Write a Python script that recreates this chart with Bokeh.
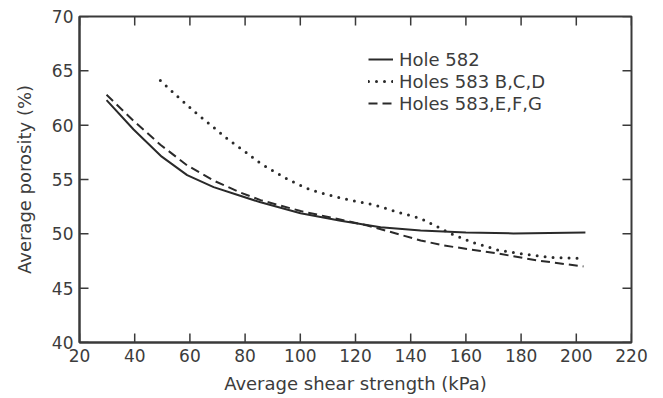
import math
from bokeh.plotting import figure
from bokeh.models import Range1d, Legend, LegendItem, FixedTicker
from bokeh.embed import file_html
from bokeh.resources import INLINE

# Hole 582 (solid)
hole582_x = [29.8, 39.6, 49.8, 59.0, 68.6, 77.1, 85.6, 100.1, 114.6, 129.1, 143.6, 160.0, 177.2, 203.3]
hole582_y = [62.30, 59.60, 57.10, 55.40, 54.30, 53.60, 52.90, 51.90, 51.20, 50.60, 50.30, 50.12, 50.04, 50.13]

# Holes 583 B,C,D (dotted)
holes583bcd_x = [49.3, 55.5, 62.0, 68.2, 74.3, 80.9, 84.1, 87.8, 91.6, 95.6, 99.7, 103.7, 107.9, 112.4,
                 117.0, 121.8, 126.4, 135.6, 143.6, 147.2, 154.4, 162.4, 172.2, 182.0, 190.7, 201.9]
holes583bcd_y = [64.11, 62.64, 61.17, 59.88, 58.59, 57.40, 56.75, 56.14, 55.58, 55.00, 54.50, 54.05, 53.74, 53.44,
                 53.16, 52.92, 52.70, 51.97, 51.42, 50.96, 50.04, 49.21, 48.47, 48.10, 47.83, 47.74]

# Holes 583,E,F,G (dashed)
holes583efg_x = [29.8, 39.6, 49.3, 59.0, 68.6, 78.3, 85.6, 100.1, 124.3, 143.6, 151.9, 171.4, 185.9, 202.6]
holes583efg_y = [62.80, 60.40, 58.20, 56.30, 54.90, 53.80, 53.10, 52.10, 50.77, 49.39, 48.93, 48.20, 47.55, 47.00]

x_ticks = [20, 40, 60, 80, 100, 120, 140, 160, 180, 200, 220]
y_ticks = [40, 45, 50, 55, 60, 65, 70]
x_min, x_max = 20, 220
y_min, y_max = 40, 70

FONT = "DejaVu Sans"
TXT = "#3c3c3c"
LINE = "#2a2a2a"
AX = "#3a3a3a"

p = figure(width=663, height=398, output_backend="svg", toolbar_location=None,
           x_range=Range1d(x_min, x_max), y_range=Range1d(y_min, y_max),
           min_border_left=79, min_border_right=32, min_border_top=16, min_border_bottom=56,
           background_fill_color="white", border_fill_color="white")
p.grid.visible = False
p.outline_line_color = AX
p.outline_line_width = 2

def style_axis(ax, ticks):
    ax.ticker = FixedTicker(ticks=ticks)
    ax.axis_line_color = AX
    ax.axis_line_width = 2
    ax.major_tick_line_color = None
    ax.major_tick_in = 0
    ax.major_tick_out = 0
    ax.minor_tick_line_color = None
    ax.major_label_text_font = FONT
    ax.major_label_text_font_size = "17px"
    ax.major_label_text_color = TXT
    ax.axis_label_text_font = FONT
    ax.axis_label_text_font_size = "18px"
    ax.axis_label_text_font_style = "normal"
    ax.axis_label_text_color = TXT

style_axis(p.xaxis[0], x_ticks)
style_axis(p.yaxis[0], y_ticks)
p.xaxis[0].axis_label = "Average shear strength (kPa)"
p.yaxis[0].axis_label = "Average porosity (%)"
p.xaxis[0].major_label_standoff = 6
p.xaxis[0].axis_label_standoff = 8
p.yaxis[0].major_label_standoff = 6
p.yaxis[0].axis_label_standoff = 14

# inward ticks on all four sides (dash markers clipped by the frame)
for yy in (y_min, y_max):
    p.scatter(x_ticks, [yy] * len(x_ticks), marker="dash", size=18, angle=math.pi / 2,
              line_color=AX, line_width=1.5)
for xx in (x_min, x_max):
    p.scatter([xx] * len(y_ticks), y_ticks, marker="dash", size=18, angle=0,
              line_color=AX, line_width=1.5)

r1 = p.line(hole582_x, hole582_y, line_color=LINE, line_width=2)
r2 = p.line(holes583bcd_x, holes583bcd_y, line_color=LINE, line_width=3,
            line_dash="0 8", line_cap="round")
r3 = p.line(holes583efg_x, holes583efg_y, line_color=LINE, line_width=2, line_dash="9 5")

legend = Legend(items=[LegendItem(label="Hole 582", renderers=[r1]),
                       LegendItem(label="Holes 583 B,C,D", renderers=[r2]),
                       LegendItem(label="Holes 583,E,F,G", renderers=[r3])],
                location=(289, 228), orientation="vertical")
legend.margin = 0
legend.padding = 0
legend.spacing = 0
legend.glyph_width = 25
legend.glyph_height = 22
legend.label_height = 22
legend.label_standoff = 6
legend.label_text_font = FONT
legend.label_text_font_size = "18px"
legend.label_text_color = TXT
legend.background_fill_alpha = 0
legend.border_line_color = None
p.add_layout(legend, "center")

open("out.html", "w").write(file_html(p, INLINE))
